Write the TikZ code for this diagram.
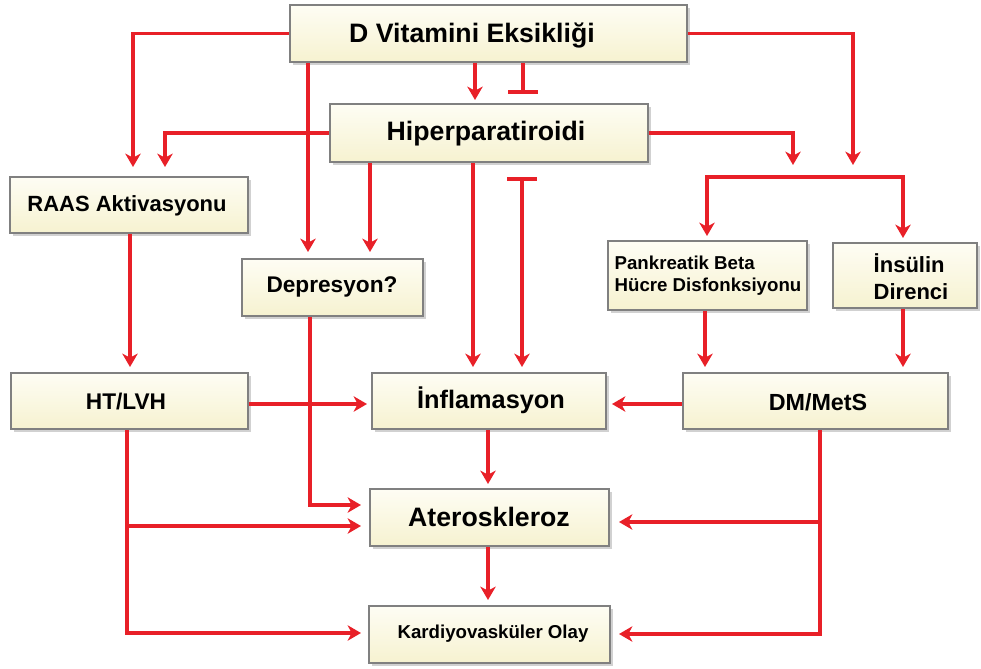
\documentclass[tikz,border=0pt]{standalone}
\usepackage{fontspec}
\setmainfont{Liberation Sans}
\usetikzlibrary{arrows.meta,fit,shadows,calc}
\definecolor{lnred}{RGB}{232,32,40}
\definecolor{bxborder}{RGB}{128,128,128}
\definecolor{bxtop}{RGB}{254,253,244}
\definecolor{bxbot}{RGB}{246,242,208}
\tikzset{
  bx/.style={draw=bxborder, line width=1.6pt, inner sep=0pt, top color=bxtop, bottom color=bxbot,
             drop shadow={shadow xshift=2pt, shadow yshift=-2pt, fill=black!30, opacity=0.6}},
  lbl/.style={font=\bfseries, inner sep=0pt, align=left},
  conn/.style={draw=lnred, line width=2.7pt},
  tip/.style={},
  arr/.style={conn, -{Stealth[length=10pt,width=11.5pt,inset=3pt]}},
  inh/.style={conn, -{Bar[width=22pt,line width=2.7pt]}},
  barr/.style={conn, {Bar[width=22pt,line width=2.7pt]}-{Stealth[length=10pt,width=11.5pt,inset=3pt]}},
  dblarr/.style={conn, {Stealth[length=10pt,width=11.5pt,inset=3pt]}-{Stealth[length=10pt,width=11.5pt,inset=3pt]}}
}
\begin{document}
\begin{tikzpicture}[x=0.75pt,y=-0.75pt]
\useasboundingbox (0,0) rectangle (981,668);
% boxes
\node[bx, fit={(290,5) (687,62)}] (dv) {};
\node[bx, fit={(330,104) (648,162)}] (hp) {};
\node[bx, fit={(10,177) (248,233)}] (raas) {};
\node[bx, fit={(242,259) (423,316)}] (dep) {};
\node[bx, fit={(608,241) (807,310)}] (pk) {};
\node[bx, fit={(833,243) (977,308)}] (ins) {};
\node[bx, fit={(11,373) (248,429)}] (ht) {};
\node[bx, fit={(372,373) (606,429)}] (inf) {};
\node[bx, fit={(683,373) (948,429)}] (dm) {};
\node[bx, fit={(370,489) (609,546)}] (ater) {};
\node[bx, fit={(369,606) (610,663)}] (kv) {};
% texts
\node[lbl, font=\fontsize{20}{24}\selectfont\bfseries] (tdv) at (472,36) {D Vitamini Eksikliği};
\node[lbl, font=\fontsize{20}{24}\selectfont\bfseries] (thp) at (486,134) {Hiperparatiroidi};
\node[lbl, font=\fontsize{16.5}{20}\selectfont\bfseries] (traas) at (127,206) {RAAS Aktivasyonu};
\node[lbl, font=\fontsize{17}{20}\selectfont\bfseries] (tdep) at (332,287) {Depresyon?};
\node[lbl, font=\fontsize{14}{16.5}\selectfont\bfseries] (tpk) at (708,276) {Pankreatik Beta\\Hücre Disfonksiyonu};
\node[lbl, font=\fontsize{16.5}{20}\selectfont\bfseries] (tins) at (911,277) {İnsülin\\Direnci};
\node[lbl, font=\fontsize{17}{20}\selectfont\bfseries] (tht) at (126,402) {HT/LVH};
\node[lbl, font=\fontsize{19}{22}\selectfont\bfseries] (tinf) at (491,400) {İnflamasyon};
\node[lbl, font=\fontsize{17.5}{20}\selectfont\bfseries] (tdm) at (818,402) {DM/MetS};
\node[lbl, font=\fontsize{20}{24}\selectfont\bfseries] (tater) at (489,517) {Ateroskleroz};
\node[lbl, font=\fontsize{14}{16}\selectfont\bfseries] (tkv) at (493,634) {Kardiyovasküler Olay};
% coordinates
\coordinate (raasIn1) at (133,167);
\coordinate (raasIn2) at (165,167);
\coordinate (depIn1) at (308,252);
\coordinate (depIn2) at (370,252);
\coordinate (hpIn) at (475,100);
\coordinate (hpBar) at (523,94);
\coordinate (infIn1) at (473,367);
\coordinate (infBar) at (522,177);
\coordinate (infIn2) at (522,367);
\coordinate (dvR) at (853,165);
\coordinate (hpR) at (793,165);
\coordinate (pkIn) at (707,236);
\coordinate (brC) at (805,177);
\coordinate (insIn) at (903,238);
\coordinate (dmIn1) at (705,367);
\coordinate (dmIn2) at (903,367);
\coordinate (htIn) at (130,367);
\coordinate (infW) at (367,404);
\coordinate (infE) at (612,404);
\coordinate (aterIn) at (488,484);
\coordinate (kvIn) at (488,600);
\coordinate (dX) at (310,316);
\coordinate (aterW1) at (361,505);
\coordinate (hX) at (127,429);
\coordinate (aterW2) at (361,526);
\coordinate (kvW) at (361,633);
\coordinate (dmX) at (820,429);
\coordinate (aterE) at (619,522);
\coordinate (kvE) at (619,634);
% connectors
\draw[arr] (dv.west) -| (raasIn1);
\draw[arr] (hp.west) -| (raasIn2);
\draw[arr] (dv.south -| depIn1) -- (depIn1);
\draw[arr] (hp.south -| depIn2) -- (depIn2);
\draw[arr] (dv.south -| hpIn) -- (hpIn);
\draw[inh] (dv.south -| hpBar) -- (hpBar);
\draw[arr] (hp.south -| infIn1) -- (infIn1);
\draw[barr] (infBar) -- (infIn2);
\draw[arr] (dv.east) -| (dvR);
\draw[arr] (hp.east) -| (hpR);
\draw[dblarr] (pkIn) |- (brC) -| (insIn);
\draw[arr] (pk.south -| dmIn1) -- (dmIn1);
\draw[arr] (ins.south -| dmIn2) -- (dmIn2);
\draw[arr] (raas.south -| htIn) -- (htIn);
\draw[arr] (ht.east |- infW) -- (infW);
\draw[arr] (dm.west |- infE) -- (infE);
\draw[arr] (inf.south -| aterIn) -- (aterIn);
\draw[arr] (ater.south -| kvIn) -- (kvIn);
\draw[arr] (dep.south -| dX) |- (aterW1);
\draw[arr] (ht.south -| hX) |- (aterW2);
\draw[arr] (ht.south -| hX) |- (kvW);
\draw[arr] (dm.south -| dmX) |- (aterE);
\draw[arr] (dm.south -| dmX) |- (kvE);
\end{tikzpicture}
\end{document}
